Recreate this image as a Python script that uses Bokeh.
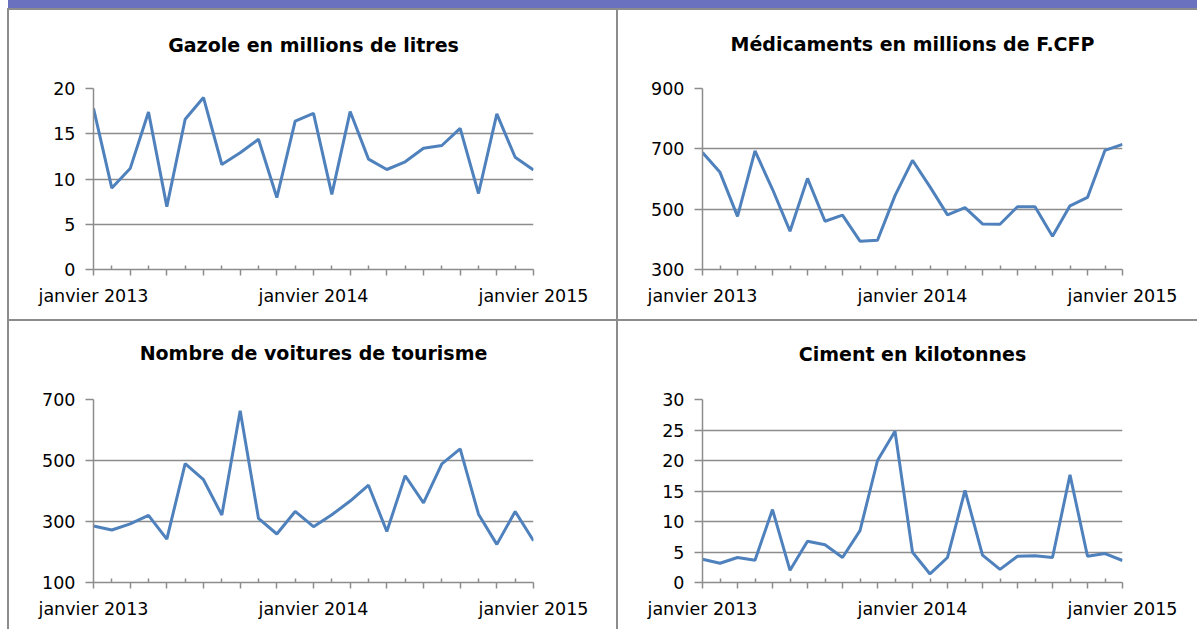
from bokeh.plotting import figure
from bokeh.layouts import column, row
from bokeh.models import Div, FixedTicker, ColumnDataSource, Title
from bokeh.embed import file_html
from bokeh.resources import INLINE

# ---- data ----
mois = list(range(25))  # janvier 2013 ... janvier 2015
etiquettes = {0: "janvier 2013", 12: "janvier 2014", 24: "janvier 2015"}

titres = ["Gazole en millions de litres",
          "Médicaments en millions de F.CFP",
          "Nombre de voitures de tourisme",
          "Ciment en kilotonnes"]

gazole = [17.8, 9.0, 11.15, 17.4, 6.95, 16.6, 19.0, 11.6, 12.9, 14.4, 7.95, 16.4,
          17.25, 8.3, 17.45, 12.2, 11.05, 11.9, 13.4, 13.7, 15.6, 8.4, 17.2, 12.4, 11.0]
medicaments = [688, 622, 476, 693, 566, 427, 602, 460, 480, 394, 397, 545,
               662, 574, 481, 505, 451, 450, 508, 508, 410, 511, 539, 695, 715]
voitures = [285, 272, 292, 320, 242, 490, 437, 321, 663, 310, 259, 333,
            283, 322, 367, 419, 267, 450, 361, 489, 538, 324, 225, 333, 237]
ciment = [3.8, 3.15, 4.1, 3.65, 11.95, 2.0, 6.75, 6.2, 4.1, 8.5, 20.0, 24.8,
          4.95, 1.4, 4.1, 15.1, 4.5, 2.15, 4.3, 4.4, 4.1, 17.65, 4.3, 4.75, 3.6]

y_ticks_gazole = [0, 5, 10, 15, 20]
y_ticks_medic = [300, 500, 700, 900]
y_ticks_voit = [100, 300, 500, 700]
y_ticks_ciment = [0, 5, 10, 15, 20, 25, 30]

FONT = "DejaVu Sans"
GRAY = "#8c8c8c"
BLUE = "#4f81bd"
BAND = "#6a72c0"


def panel(title, values, yticks, width, height, left, right, top, bottom, title_gap):
    p = figure(width=width, height=height, output_backend="svg", toolbar_location=None,
               x_range=(0, 24), y_range=(yticks[0], yticks[-1]),
               min_border_left=left, min_border_right=right,
               min_border_top=top, min_border_bottom=bottom, margin=0)
    p.outline_line_color = None
    p.background_fill_color = "white"
    p.border_fill_color = "white"
    p.title.text = title
    p.title.align = "center"
    p.title.text_font = FONT
    p.title.text_font_style = "bold"
    p.title.text_font_size = "19px"
    p.title.text_color = "black"
    p.title.standoff = 0
    # empty spacer between the title and the plot frame
    p.add_layout(Title(text=" ", text_font_size="1px", standoff=title_gap), "above")

    src = ColumnDataSource(dict(x=mois, y=values))
    p.line("x", "y", source=src, line_color=BLUE, line_width=3)

    p.xgrid.visible = False
    p.ygrid.grid_line_color = GRAY
    p.ygrid.grid_line_width = 1.5
    p.ygrid.ticker = FixedTicker(ticks=yticks)

    xa = p.xaxis[0]
    xa.ticker = FixedTicker(ticks=list(range(0, 25, 2)), minor_ticks=list(range(1, 25, 2)))
    xa.major_label_overrides = {k: etiquettes.get(k, "") for k in range(0, 25, 2)}
    xa.axis_line_color = GRAY
    xa.axis_line_width = 1.5
    xa.major_tick_line_color = GRAY
    xa.major_tick_line_width = 1.5
    xa.major_tick_out = 6
    xa.major_tick_in = 0
    xa.minor_tick_line_color = GRAY
    xa.minor_tick_line_width = 1.5
    xa.minor_tick_in = 4
    xa.minor_tick_out = 0
    xa.major_label_text_font = FONT
    xa.major_label_text_font_size = "17.5px"
    xa.major_label_text_color = "black"
    xa.major_label_standoff = 10

    ya = p.yaxis[0]
    ya.ticker = FixedTicker(ticks=yticks)
    ya.axis_line_color = GRAY
    ya.axis_line_width = 1.5
    ya.major_tick_line_color = GRAY
    ya.major_tick_line_width = 1.5
    ya.major_tick_out = 8
    ya.major_tick_in = 0
    ya.minor_tick_line_color = None
    ya.major_label_text_font = FONT
    ya.major_label_text_font_size = "17.5px"
    ya.major_label_text_color = "black"
    ya.major_label_standoff = 10
    return p


p1 = panel(titres[0], gazole, y_ticks_gazole, 607, 309, 84, 83, 77, 50, 30)
p2 = panel(titres[1], medicaments, y_ticks_medic, 579, 309, 84, 75, 78, 50, 31)
p3 = panel(titres[2], voitures, y_ticks_voit, 607, 308, 84, 83, 78, 47, 33)
p4 = panel(titres[3], ciment, y_ticks_ciment, 579, 308, 84, 75, 77, 47, 32)


def box(w, h, color):
    return Div(width=w, height=h, margin=0, styles={"background-color": color})


top_band = row(box(8, 8, "white"), box(1189, 8, BAND), spacing=0, margin=0)
top_line = row(box(7, 2, "white"), box(1190, 2, GRAY), spacing=0, margin=0)
mid_line = row(box(7, 2, "white"), box(1190, 2, GRAY), spacing=0, margin=0)

layout = column(top_band,
                top_line,
                row(box(7, 309, "white"), box(2, 309, GRAY), p1, box(2, 309, GRAY), p2,
                    spacing=0, margin=0),
                mid_line,
                row(box(7, 308, "white"), box(2, 308, GRAY), p3, box(2, 308, GRAY), p4,
                    spacing=0, margin=0),
                spacing=0, margin=0)

open("out.html", "w").write(file_html(layout, INLINE))
